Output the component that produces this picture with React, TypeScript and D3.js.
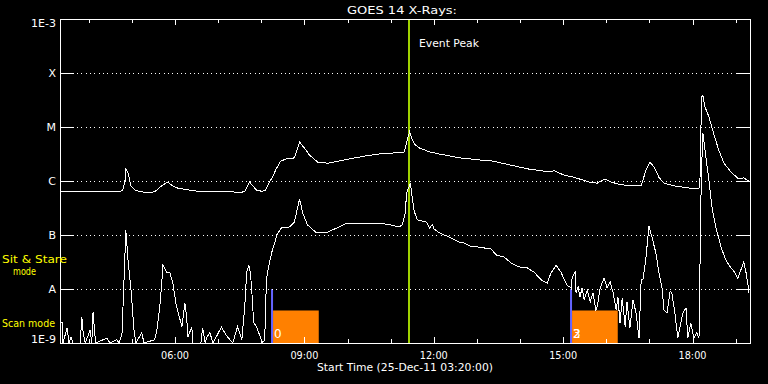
import React from 'react';
import * as d3 from 'd3';

// ---- text ----
const TITLE = 'GOES 14 X-Rays:';
const X_TITLE = 'Start Time (25-Dec-11 03:20:00)';
const EVENT_LABEL = 'Event Peak';

// ---- axes ----
const START_HOUR = 3 + 20 / 60; // 03:20 UT
const END_HOUR = 19 + 20 / 60; // 19:20 UT
const hourTicks = [4, 5, 6, 7, 8, 9, 10, 11, 12, 13, 14, 15, 16, 17, 18, 19];
const labeledHours = [6, 9, 12, 15, 18];
const hourLabels = ['06:00', '09:00', '12:00', '15:00', '18:00'];
const fluxTicks = [1e-9, 1e-8, 1e-7, 1e-6, 1e-5, 1e-4, 1e-3];
const fluxLabels = ['1E-9', 'A', 'B', 'C', 'M', 'X', '1E-3'];

// ---- events / observing modes ----
const eventPeakHour = 11 + 26 / 60;
const scanStarts = [8 + 15 / 60, 15 + 11 / 60];
const scanEnds = [9 + 20 / 60, 16 + 16 / 60];
const scanLabels = [['0'], ['2', '3']];
const scanBlockTop = 4e-9;
const modeMarkerTop = 1e-8;

// ---- GOES long channel (1-8 A): [UT hour, log10 flux W/m^2] ----
const longChannel: [number, number][] = [
  [3.33, -6.19], [3.8, -6.19], [4.26, -6.19], [4.72, -6.2], [4.79, -6.17], [4.84, -6.0],
  [4.86, -5.78], [4.91, -5.85], [4.98, -6.09], [5.07, -6.17], [5.23, -6.2], [5.37, -6.22],
  [5.53, -6.2], [5.69, -6.09], [5.83, -6.02], [5.95, -6.09], [6.06, -6.13], [6.34, -6.17],
  [6.64, -6.2], [6.88, -6.2], [7.08, -6.19], [7.15, -6.2], [7.34, -6.2], [7.5, -6.22],
  [7.62, -6.19], [7.73, -6.02], [7.89, -6.17], [8.01, -6.19], [8.1, -6.17], [8.19, -6.02],
  [8.29, -5.89], [8.33, -5.8], [8.45, -5.63], [8.59, -5.59], [8.73, -5.59], [8.77, -5.56],
  [8.89, -5.28], [9.0, -5.39], [9.12, -5.52], [9.31, -5.65], [9.54, -5.67], [9.93, -5.61],
  [10.05, -5.59], [10.39, -5.54], [10.74, -5.5], [11.09, -5.48], [11.27, -5.48], [11.32, -5.46],
  [11.37, -5.28], [11.44, -5.09], [11.5, -5.24], [11.57, -5.33], [11.67, -5.39], [11.9, -5.46],
  [12.13, -5.5], [12.59, -5.57], [13.06, -5.61], [13.36, -5.63], [13.75, -5.7], [14.21, -5.78],
  [14.68, -5.83], [14.79, -5.81], [15.02, -5.89], [15.25, -5.93], [15.37, -5.96], [15.6, -6.02],
  [15.79, -6.04], [15.97, -5.96], [16.11, -6.02], [16.3, -6.06], [16.53, -6.09], [16.81, -6.09],
  [16.92, -5.8], [17.01, -5.65], [17.11, -5.74], [17.22, -5.93], [17.34, -6.04], [17.57, -6.09],
  [17.92, -6.13], [18.15, -6.13], [18.17, -6.11], [18.21, -4.45], [18.24, -4.41], [18.29, -4.63],
  [18.38, -4.81], [18.5, -5.15], [18.61, -5.43], [18.73, -5.67], [18.91, -5.85], [19.07, -5.96],
  [19.19, -5.94], [19.26, -5.98], [19.31, -6.0],
];

// ---- GOES short channel (0.5-4 A): [UT hour, log10 flux W/m^2] ----
const shortChannel: [number, number][] = [
  [3.33, -8.63], [3.38, -8.61], [3.4, -9.0], [3.5, -8.72], [3.54, -9.0], [3.59, -8.89],
  [3.63, -9.0], [3.8, -9.0], [3.84, -8.52], [3.87, -8.81], [3.92, -9.0], [4.03, -8.76],
  [4.07, -9.0], [4.1, -8.43], [4.12, -8.63], [4.16, -9.0], [4.42, -8.91], [4.49, -9.0],
  [4.65, -8.94], [4.7, -9.0], [4.77, -8.85], [4.81, -8.0], [4.86, -6.91], [4.91, -7.46],
  [4.98, -8.02], [5.05, -8.76], [5.09, -9.0], [5.23, -8.81], [5.28, -9.0], [5.53, -8.94],
  [5.58, -8.76], [5.65, -8.3], [5.69, -7.93], [5.72, -7.56], [5.81, -7.7], [5.88, -7.7],
  [5.95, -7.89], [6.02, -8.26], [6.06, -8.39], [6.16, -8.7], [6.18, -8.57], [6.23, -8.26],
  [6.27, -8.52], [6.3, -8.89], [6.39, -8.7], [6.41, -9.0], [6.6, -9.0], [6.64, -8.72],
  [6.7, -9.0], [6.74, -8.89], [6.81, -8.81], [6.88, -9.0], [7.08, -8.7], [7.15, -8.81],
  [7.22, -8.89], [7.34, -9.0], [7.45, -8.7], [7.55, -8.94], [7.62, -8.3], [7.66, -7.7],
  [7.71, -7.56], [7.75, -7.7], [7.8, -8.26], [7.82, -8.61], [7.89, -8.7], [7.96, -8.85],
  [8.03, -9.0], [8.08, -8.94], [8.12, -7.83], [8.17, -7.59], [8.24, -7.33], [8.31, -7.15],
  [8.36, -7.0], [8.43, -6.91], [8.47, -6.87], [8.66, -6.85], [8.77, -6.76], [8.82, -6.57],
  [8.89, -6.33], [8.96, -6.59], [9.07, -6.81], [9.28, -6.96], [9.51, -6.96], [9.75, -6.87],
  [9.98, -6.78], [10.21, -6.78], [10.51, -6.78], [10.74, -6.78], [10.97, -6.81], [11.2, -6.85],
  [11.27, -6.81], [11.34, -6.59], [11.37, -6.22], [11.46, -6.04], [11.5, -6.3], [11.55, -6.57],
  [11.62, -6.72], [11.83, -6.76], [11.9, -6.87], [11.97, -6.81], [12.01, -6.89], [12.13, -6.96],
  [12.36, -7.04], [12.59, -7.13], [12.71, -7.15], [12.89, -7.22], [13.01, -7.22], [13.33, -7.26],
  [13.45, -7.37], [13.63, -7.41], [13.8, -7.52], [13.98, -7.59], [14.17, -7.61], [14.33, -7.69],
  [14.49, -7.83], [14.63, -7.89], [14.72, -7.7], [14.84, -7.56], [14.95, -7.69], [15.09, -7.93],
  [15.19, -7.98], [15.21, -7.78], [15.28, -7.69], [15.3, -8.07], [15.35, -7.96], [15.39, -8.15],
  [15.44, -7.98], [15.49, -8.2], [15.56, -8.02], [15.63, -8.24], [15.69, -8.07], [15.76, -8.39],
  [15.79, -8.33], [15.86, -7.98], [15.95, -7.8], [16.02, -7.98], [16.09, -7.87], [16.16, -8.07],
  [16.23, -8.39], [16.27, -8.15], [16.32, -8.63], [16.37, -8.17], [16.44, -8.7], [16.48, -8.24],
  [16.55, -8.72], [16.62, -8.2], [16.69, -8.44], [16.76, -8.91], [16.81, -7.83], [16.85, -7.83],
  [16.92, -7.43], [16.99, -6.83], [17.06, -7.04], [17.15, -7.33], [17.22, -7.69], [17.29, -7.96],
  [17.34, -8.39], [17.41, -8.44], [17.48, -8.04], [17.52, -8.07], [17.59, -8.44], [17.66, -8.91],
  [17.71, -8.7], [17.78, -8.44], [17.85, -8.35], [17.89, -8.91], [17.96, -8.63], [18.03, -8.91],
  [18.1, -8.81], [18.15, -8.91], [18.17, -7.83], [18.19, -6.48], [18.22, -5.57], [18.24, -5.11],
  [18.29, -5.43], [18.38, -5.98], [18.45, -6.48], [18.54, -6.85], [18.66, -7.22], [18.77, -7.46],
  [18.89, -7.61], [18.98, -7.69], [19.05, -7.8], [19.12, -7.65], [19.19, -7.5], [19.24, -7.69],
  [19.28, -7.89], [19.31, -8.07],
];

const W = 768;
const H = 384;
const L = 60;
const R = 750;
const T = 19;
const B = 343;
const FONT = 'DejaVu Sans, Liberation Sans, sans-serif';

export default function App() {
  const x = d3.scaleLinear().domain([START_HOUR, END_HOUR]).range([L, R]);
  const y = d3.scaleLog().domain([1e-9, 1e-3]).range([B, T]).clamp(true);
  const line = d3
    .line<[number, number]>()
    .x((d) => x(d[0]))
    .y((d) => y(Math.pow(10, d[1])));

  const fluxLabelY = (i: number) =>
    i === 0 ? y(fluxTicks[i]) : i === fluxTicks.length - 1 ? y(fluxTicks[i]) + 8 : y(fluxTicks[i]) + 4;

  return (
    <svg
      width={W}
      height={H}
      style={{ position: 'absolute', left: 0, top: 0, background: '#000' }}
      fontFamily={FONT}
    >
      <rect x={0} y={0} width={W} height={H} fill="#000" />

      {/* title */}
      <text x={347} y={14} fill="#fff" fontSize={11} textLength={110} lengthAdjust="spacingAndGlyphs">
        {TITLE}
      </text>

      {/* scan-mode blocks */}
      {scanStarts.map((s, i) => (
        <g key={'scan' + i}>
          <rect
            x={x(s) + 1}
            y={y(scanBlockTop)}
            width={x(scanEnds[i]) - x(s) - 1}
            height={y(1e-9) - y(scanBlockTop)}
            fill="#ff8000"
          />
          <rect
            x={x(s) - 1}
            y={y(modeMarkerTop)}
            width={2}
            height={y(1e-9) - y(modeMarkerTop)}
            fill="#6464ff"
          />
          {scanLabels[i].map((lab, j) => (
            <text key={j} x={x(s) + 2} y={338} fill="#fff" fontSize={12}>
              {lab}
            </text>
          ))}
        </g>
      ))}

      <g shapeRendering="crispEdges" stroke="#fff">
        {/* grid + tick marks at GOES classes */}
        {fluxTicks.slice(1, -1).map((f) => (
          <g key={f}>
            <line x1={L} x2={L + 14} y1={Math.round(y(f)) + 0.5} y2={Math.round(y(f)) + 0.5} />
            <line x1={R - 14} x2={R} y1={Math.round(y(f)) + 0.5} y2={Math.round(y(f)) + 0.5} />
            <line
              x1={L + 17}
              x2={R - 15}
              y1={Math.round(y(f)) + 0.5}
              y2={Math.round(y(f)) + 0.5}
              strokeDasharray="1 3.33"
            />
          </g>
        ))}
        {/* time ticks */}
        {hourTicks.map((h) => {
          const len = h % 3 === 0 ? 6 : 4;
          const xx = Math.round(x(h)) + 0.5;
          return (
            <g key={h}>
              <line x1={xx} x2={xx} y1={T} y2={T + len} />
              <line x1={xx} x2={xx} y1={B} y2={B - len} />
            </g>
          );
        })}
      </g>

      {/* event peak marker */}
      <line
        x1={x(eventPeakHour)}
        x2={x(eventPeakHour)}
        y1={T}
        y2={B}
        stroke="#a0d200"
        strokeWidth={2}
        shapeRendering="crispEdges"
      />
      <text x={419} y={47} fill="#fff" fontSize={11} textLength={60} lengthAdjust="spacingAndGlyphs">
        {EVENT_LABEL}
      </text>

      {/* data */}
      <path d={line(shortChannel) || ''} fill="none" stroke="#fff" strokeWidth={1} shapeRendering="crispEdges" />
      <path d={line(longChannel) || ''} fill="none" stroke="#fff" strokeWidth={1} shapeRendering="crispEdges" />

      {/* frame */}
      <rect x={L + 0.5} y={T + 0.5} width={R - L} height={B - T} fill="none" stroke="#fff" shapeRendering="crispEdges" />

      {/* y labels */}
      {fluxTicks.map((f, i) => (
        <text
          key={'yl' + i}
          x={56}
          y={fluxLabelY(i)}
          fill="#fff"
          fontSize={11}
          textAnchor="end"
          {...(fluxLabels[i].length > 1 ? { textLength: 25, lengthAdjust: 'spacingAndGlyphs' } : {})}
        >
          {fluxLabels[i]}
        </text>
      ))}

      {/* x labels */}
      {labeledHours.map((h, i) => (
        <text
          key={'xl' + h}
          x={x(h) - 14}
          y={359}
          fill="#fff"
          fontSize={11}
          textLength={28}
          lengthAdjust="spacingAndGlyphs"
        >
          {hourLabels[i]}
        </text>
      ))}
      <text x={317} y={371} fill="#fff" fontSize={11} textLength={176} lengthAdjust="spacingAndGlyphs">
        {X_TITLE}
      </text>

      {/* mode labels */}
      <text x={2} y={263} fill="#ffff00" fontSize={11} textLength={65} lengthAdjust="spacingAndGlyphs">
        Sit &amp; Stare
      </text>
      <text x={13} y={275} fill="#ffff00" fontSize={11} textLength={23} lengthAdjust="spacingAndGlyphs">
        mode
      </text>
      <text x={2} y={327} fill="#ffff00" fontSize={11} textLength={53} lengthAdjust="spacingAndGlyphs">
        Scan mode
      </text>
    </svg>
  );
}
